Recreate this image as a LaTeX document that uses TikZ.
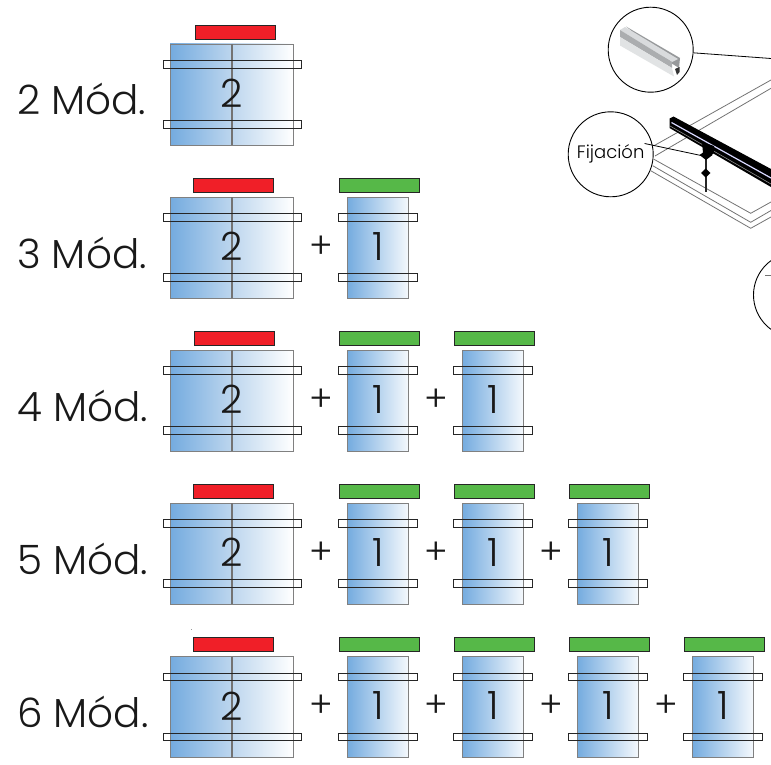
\documentclass[tikz,border=0pt]{standalone}
\usepackage{fontspec}
\setmainfont{Poppins}[UprightFont=* Light]
\definecolor{panelblue}{HTML}{74ABDF}
\definecolor{panelmid}{HTML}{BDD6EE}
\definecolor{barred}{HTML}{F01F28}
\definecolor{bargreen}{HTML}{56B848}
\definecolor{railgrey}{HTML}{C9CCCE}
\tikzset{
  x=1pt,y=-1pt,
  rowlabel/.style={anchor=base west,inner sep=0pt,font=\fontsize{40.5}{41}\selectfont,text=black!90},
  digit/.style={inner sep=0pt,font=\fontsize{39}{39}\selectfont,text=black!90},
  plus/.style={inner sep=0pt,font=\fontsize{36}{36}\selectfont,text=black!90},
  redbar/.style={draw=black!85,line width=.8pt,fill=barred},
  greenbar/.style={draw=black!85,line width=.8pt,fill=bargreen},
  panelbox/.style={draw=black!50,line width=.9pt},
  clampbox/.style={draw=black!85,line width=.8pt},
  callout/.style={circle,draw=black,line width=.9pt,fill=white,inner sep=0pt,minimum size=85pt},
  leader/.style={draw=black,line width=.8pt},
  outline/.style={draw=black!55,line width=.8pt},
}
\newcommand{\doublepanel}[2]{% x of red bar, y of row
  \fill[left color=panelblue,right color=panelmid] (170,#2+44) rectangle (232,#2+145);
  \fill[left color=panelmid,right color=white] (232,#2+44) rectangle (293,#2+145);
  \draw[panelbox] (170,#2+44) rectangle (293,#2+145);
  \draw[draw=black!55,line width=1.6pt] (232,#2+44) -- (232,#2+145);
  \draw[redbar] (#1,#2+25.3) rectangle (#1+80,#2+39);
  \draw[clampbox] (163,#2+60.5) rectangle (301,#2+68);
  \draw[clampbox] (163,#2+120.5) rectangle (301,#2+128);
  \node[digit] at (232,#2+93.5) {2};
}
\newcommand{\singlepanel}[2]{% left x of panel, y of row
  \fill[left color=panelblue,right color=white!92!panelblue] (#1,#2+44) rectangle (#1+61,#2+145);
  \draw[panelbox] (#1,#2+44) rectangle (#1+61,#2+145);
  \draw[greenbar] (#1-8,#2+25.3) rectangle (#1+72,#2+39);
  \draw[clampbox] (#1-9,#2+60.5) rectangle (#1+70,#2+68);
  \draw[clampbox] (#1-9,#2+120.5) rectangle (#1+70,#2+128);
  \node[digit] at (#1+31,#2+93.5) {1};
  \node[plus] at (#1-26,#2+94) {+};
}
\begin{document}
\begin{tikzpicture}
\useasboundingbox (0,0) rectangle (771,765);
% rows
\node[rowlabel] at (17,115) {2 Mód.};
\doublepanel{195}{0}
\node[rowlabel] at (17,268) {3 Mód.};
\doublepanel{193}{153}
\singlepanel{347}{153}
\node[rowlabel] at (17,421) {4 Mód.};
\doublepanel{194}{306}
\singlepanel{347}{306}
\singlepanel{462}{306}
\node[rowlabel] at (17,574) {5 Mód.};
\doublepanel{193}{459}
\singlepanel{347}{459}
\singlepanel{462}{459}
\singlepanel{577}{459}
\node[rowlabel] at (17,727) {6 Mód.};
\doublepanel{193}{612.5}
\singlepanel{347}{612.5}
\singlepanel{462}{612.5}
\singlepanel{577}{612.5}
\singlepanel{692}{612.5}
\fill[black!40] (190.8,628.5) rectangle (191.4,630);
% mounting drawing: sheet outlines
\begin{scope}
\clip (0,0) rectangle (771,765);
\draw[outline] (654,145.7) -- (771,80);
\draw[outline] (655,156) -- (771,88.3);
\draw[outline] (654,159.3) -- (750.7,213.3) -- (771,202);
\draw[outline] (652.7,165.7) -- (750.7,222.3) -- (771,210.5);
\draw[outline] (650.7,170.7) -- (750.7,228.3) -- (771,217);
% rail
\fill[black] (669.5,118.5) -- (673.5,116.5) -- (771,169) -- (771,187) -- (669.5,128) -- cycle;
\draw[white!85!blue,line width=1.2pt] (671.5,122.5) -- (771,178);
\draw[black!45,line width=.6pt] (670,126) -- (771,184);
% post and fixing
\fill[black] (702,142) -- (714,146) -- (714,153) -- (708,158) -- (703,153) -- cycle;
\coordinate (fixpoint) at (701,155.5);
\draw[black!85,line width=2.4pt] (705.7,152) -- (705.7,192);
\fill[black] (699.5,155) -- (706,150.5) -- (712.5,155) -- (706,160) -- cycle;
\fill[black] (701,173) -- (705.7,168.5) -- (710.5,173) -- (705.7,177.5) -- cycle;
% callouts
\node[callout] (profile) at (650.7,49.7) {};
\node[callout] (fix) at (610.7,154.3) {\fontsize{18}{18}\selectfont Fijación};
\node[callout] (third) at (796,295) {};
\coordinate (railpoint) at (771,58.5);
\draw[leader] (profile) -- (railpoint);
\draw[leader] (fix.north east |- 0,143.5) ++(3.5,0) -- (fixpoint);
% small rail profile inside the first callout
\fill[railgrey!75!black] (626,26.5) -- (680,58) -- (679,68) -- (671,63) -- cycle;
\fill[railgrey!70!white] (620,30) -- (625,27) -- (678,59) -- (672,62) -- cycle;
\fill[railgrey!85!black] (620,30) -- (672,62) -- (672,68) -- (620,37) -- cycle;
\fill[railgrey!55!white] (620,37) -- (672,68) -- (674,76.5) -- (620,45.5) -- cycle;
\fill[black!80] (675,69) -- (679.5,67) -- (679.5,72) -- (677,75) -- cycle;
\fill[black!55] (765,274.5) rectangle (771,276);
\end{scope}
\end{tikzpicture}
\end{document}
